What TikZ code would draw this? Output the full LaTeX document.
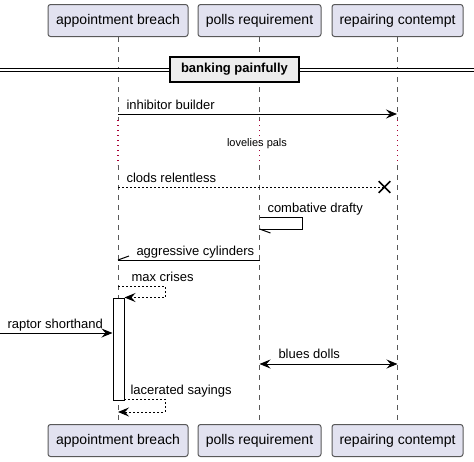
\documentclass[tikz,border=0pt]{standalone}
\usepackage{fontspec}
\setmainfont{Liberation Sans}
\usetikzlibrary{arrows.meta,shapes.misc}
\definecolor{boxfill}{HTML}{E2E2F0}
\definecolor{delaycol}{HTML}{A80036}
\begin{document}
\begin{tikzpicture}[x=1pt,y=-1pt,line width=1pt,
  actor/.style={draw=black!65,fill=boxfill,rounded corners=2.5pt,minimum height=32pt,inner xsep=2pt,font=\fontsize{14}{16}\selectfont},
  life/.style={draw=black!65,line width=0.6pt,dash pattern=on 5pt off 5pt},
  lbl/.style={anchor=base west,inner sep=0pt,font=\fontsize{13}{15}\selectfont},
  tip/.style={-{Stealth[length=11pt,width=9pt,inset=4pt]}},
  ret/.style={dash pattern=on 2pt off 2pt}]
  \useasboundingbox (0,0) rectangle (474,461);
  % participants, top and bottom
  \node[actor,minimum width=140pt] (A) at (118,20.5) {appointment breach};
  \node[actor,minimum width=123pt] (B) at (259.5,20.5) {polls requirement};
  \node[actor,minimum width=131pt] (C) at (397.5,20.5) {repairing contempt};
  \node[actor,minimum width=140pt] (A2) at (118,440.5) {appointment breach};
  \node[actor,minimum width=123pt] (B2) at (259.5,440.5) {polls requirement};
  \node[actor,minimum width=131pt] (C2) at (397.5,440.5) {repairing contempt};
  % lifelines with the delay
  \coordinate (d1) at (0,120);
  \coordinate (d2) at (0,165);
  \foreach \p in {A,B,C} {
    \draw[life] (\p.south) -- (\p.south |- d1);
    \draw[delaycol,line width=1.3pt,dash pattern=on 1.3pt off 3.7pt] (\p.south |- d1) -- (\p.south |- d2);
    \draw[life] (\p.south |- d2) -- (\p2.north);
  }
  % divider
  \coordinate (dl) at (0,69.5);
  \coordinate (dr) at (474,69.5);
  \draw[double,double distance=2pt] (dl) -- (dr);
  \node[draw,line width=1.5pt,fill=gray!14,minimum width=129pt,minimum height=25pt,inner sep=0pt,
    font=\bfseries\fontsize{13}{15}\selectfont] (div) at (234.5,69.5) {banking painfully};
  % inhibitor builder
  \coordinate (m1a) at (118,114);
  \coordinate (m1b) at (397,114);
  \draw[tip] (m1a) -- (m1b);
  \node[lbl] (l1) at (126,109) {inhibitor builder};
  \node[font=\fontsize{11}{13}\selectfont,inner sep=0pt] (pals) at (257,144) {lovelies pals};
  % clods relentless
  \coordinate (m2a) at (118,187);
  \node[cross out,draw,line width=1.6pt,minimum size=10pt,inner sep=0pt] (kill) at (384.5,187) {};
  \draw[ret] (m2a) -- (kill.center);
  \node[lbl] (l2) at (126,182) {clods relentless};
  % combative drafty
  \coordinate (m3a) at (259.5,217);
  \coordinate (m3b) at (259.5,229);
  \draw (m3a) -- ++(43,0) |- (m3b);
  \draw (m3b) -- ++(11,4);
  \node[lbl] (l3) at (267,212) {combative drafty};
  % aggressive cylinders
  \coordinate (m4a) at (259.5,260);
  \coordinate (m4b) at (118,260);
  \draw (m4a) -- (m4b);
  \draw (m4b) -- ++(11,-4);
  \node[lbl] (l4) at (136,255) {aggressive cylinders};
  % activation
  \node[draw,fill=white,minimum width=11pt,minimum height=102pt,inner sep=0pt] (act) at (118.5,349) {};
  % max crises
  \coordinate (m5a) at (118,286);
  \draw[ret,tip] (m5a) -- ++(47,0) |- (act.north east);
  \node[lbl] (l5) at (131,281) {max crises};
  % raptor shorthand
  \coordinate (src) at (0,333);
  \draw[tip] (src) -- (act.west |- src);
  \node[lbl] (l6) at (7,328) {raptor shorthand};
  % blues dolls
  \coordinate (m7a) at (259.5,364);
  \coordinate (m7b) at (397.5,364);
  \draw[{Stealth[length=11pt,width=9pt,inset=4pt]}-{Stealth[length=11pt,width=9pt,inset=4pt]}] (m7a) -- (m7b);
  \node[lbl] (l7) at (278,358) {blues dolls};
  % lacerated sayings
  \coordinate (m8a) at (124,399);
  \coordinate (m8b) at (118,412);
  \draw[ret,tip] (m8a) -- ++(41,0) |- (m8b);
  \node[lbl] (l8) at (130,394) {lacerated sayings};
\end{tikzpicture}
\end{document}
